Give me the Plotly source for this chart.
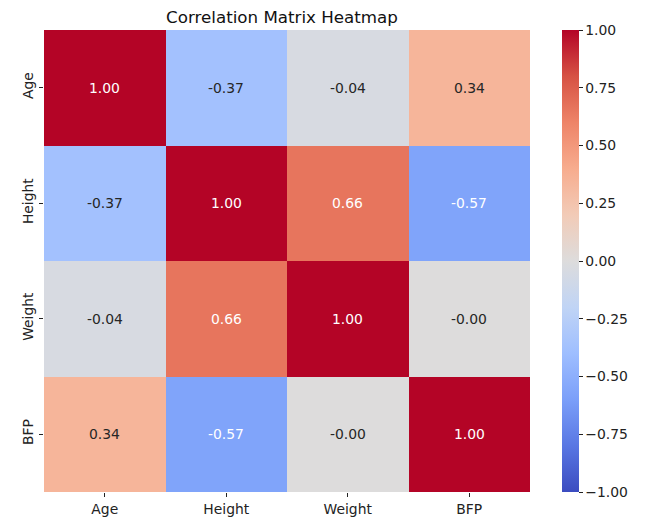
import plotly.graph_objects as go

labels = ["Age", "Height", "Weight", "BFP"]
corr = [
    [1.00, -0.37, -0.04, 0.34],
    [-0.37, 1.00, 0.66, -0.57],
    [-0.04, 0.66, 1.00, -0.001],
    [0.34, -0.57, -0.001, 1.00],
]
cbar_vals = [1.0, 0.75, 0.5, 0.25, 0.0, -0.25, -0.5, -0.75, -1.0]
cbar_text = ["1.00", "0.75", "0.50", "0.25", "0.00", "\u22120.25", "\u22120.50", "\u22120.75", "\u22121.00"]

coolwarm = ['#3b4cc0', '#5977e3', '#7b9ff9', '#9ebeff', '#c0d4f5', '#dddcdc',
            '#f2cbb7', '#f7ac8e', '#ee8468', '#d65244', '#b40426']
colorscale = [[i / 10, c] for i, c in enumerate(coolwarm)]

FONT = "DejaVu Sans"
FS = 13.9

fig = go.Figure(go.Heatmap(
    z=corr, x=labels, y=labels, zmin=-1, zmax=1, colorscale=colorscale,
    xgap=0, ygap=0,
    colorbar=dict(
        x=1.0665, xanchor="left", xpad=0, y=0, yanchor="bottom", len=1, lenmode="fraction",
        thickness=17, outlinewidth=0, ypad=0,
        tickvals=cbar_vals, ticktext=cbar_text, ticks="outside", ticklen=4,
        tickcolor="#222", tickfont=dict(family=FONT, size=FS, color="#222"),
    ),
))

for i, row in enumerate(corr):
    for j, v in enumerate(row):
        txt = f"{v:.2f}"
        col = "white" if abs(v) > 0.5 else "#262626"
        fig.add_annotation(x=labels[j], y=labels[i], text=txt, showarrow=False,
                           font=dict(family=FONT, size=FS, color=col))

fig.update_layout(
    width=646, height=526,
    margin=dict(l=26, r=124, t=22, b=42),
    plot_bgcolor="white", paper_bgcolor="white",
    title=dict(text="Correlation Matrix Heatmap", x=274 / 646, xanchor="center",
               y=1 - 9 / 526, yanchor="middle", font=dict(family=FONT, size=16.7, color="#111")),
    xaxis=dict(ticks="outside", ticklen=4, tickcolor="#222", showgrid=False, zeroline=False,
               tickfont=dict(family=FONT, size=FS, color="#222"), showline=False),
    yaxis=dict(ticks="outside", ticklen=4, tickcolor="#222", showgrid=False, zeroline=False,
               autorange="reversed", tickangle=-90,
               tickfont=dict(family=FONT, size=FS, color="#222"), showline=False),
)

fig.write_html("out.html")
